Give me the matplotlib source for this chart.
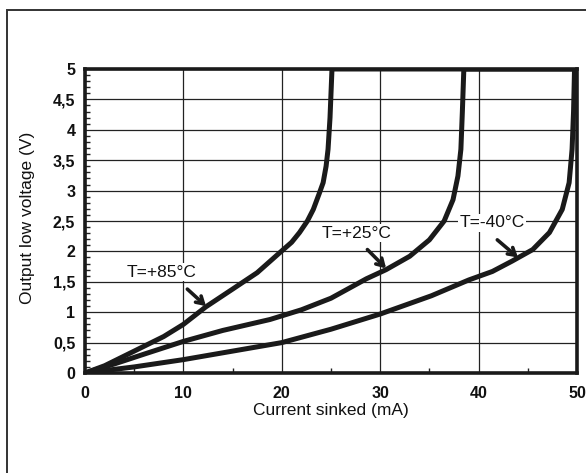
import matplotlib
matplotlib.use("Agg")
import matplotlib.pyplot as plt
from matplotlib.patches import Rectangle
from matplotlib.ticker import MultipleLocator, FuncFormatter

# Data (current in mA, voltage in V)
i_85 = [0, 2, 5, 8, 10, 12.3, 15, 17.5, 19.8, 21.0, 21.8, 22.6, 23.2, 23.8, 24.2, 24.5, 24.7, 24.9, 25.1, 50]
v_85 = [0, 0.12, 0.36, 0.6, 0.8, 1.09, 1.38, 1.65, 1.98, 2.15, 2.31, 2.5, 2.69, 2.95, 3.13, 3.4, 3.68, 4.2, 5.0, 5.0]

i_25 = [0, 3, 6, 10, 14, 18.8, 22, 25, 26.8, 28.6, 30.6, 33.0, 35.0, 36.5, 37.4, 37.9, 38.2, 38.35, 38.5, 50]
v_25 = [0, 0.15, 0.31, 0.52, 0.7, 0.88, 1.04, 1.23, 1.39, 1.55, 1.70, 1.92, 2.19, 2.5, 2.85, 3.24, 3.68, 4.3, 5.0, 5.0]

i_m40 = [0, 5, 10, 15, 20, 25, 30, 35.2, 39.0, 41.4, 43.4, 45.5, 47.2, 48.5, 49.2, 49.5, 49.65, 49.75]
v_m40 = [0, 0.1, 0.22, 0.36, 0.5, 0.72, 0.97, 1.27, 1.53, 1.67, 1.84, 2.03, 2.31, 2.69, 3.13, 3.68, 4.3, 5.0]

labels = ["T=+85°C", "T=+25°C", "T=-40°C"]
label_xy = [(7.75, 1.66), (27.6, 2.30), (41.4, 2.47)]
arrow_from = [(10.4, 1.38), (28.7, 2.03), (41.9, 2.19)]
arrow_to = [(12.3, 1.10), (30.6, 1.72), (44.0, 1.90)]

x_ticks = [0, 10, 20, 30, 40, 50]
y_ticks = [0, 0.5, 1, 1.5, 2, 2.5, 3, 3.5, 4, 4.5, 5]

plt.rcParams['font.family'] = ['Liberation Sans', 'DejaVu Sans']

fig = plt.figure(figsize=(5.86, 4.73), dpi=100)
fig.patch.set_facecolor('white')

# outer frame (partly cut by the image edge)
fig.patches.append(Rectangle((7 / 586, -0.2), 1.5, 1.2 - 10 / 473, transform=fig.transFigure,
                             fill=False, edgecolor='#333333', linewidth=1.4, clip_on=False))

ax = fig.add_axes([85 / 586, 1 - 373 / 473, (577 - 85) / 586, (373 - 69) / 473])
ax.set_xlim(0, 50)
ax.set_ylim(0, 5)

ax.set_xticks(x_ticks)
ax.set_yticks(y_ticks)
ax.yaxis.set_major_formatter(FuncFormatter(lambda v, p: ('%g' % v).replace('.', ',')))
ax.xaxis.set_minor_locator(MultipleLocator(5))
ax.yaxis.set_minor_locator(MultipleLocator(0.1))
ax.tick_params(which='major', length=0, labelsize=11.5, colors='#111111')
ax.tick_params(axis='x', which='major', pad=9)
ax.tick_params(axis='y', which='major', pad=7)
ax.tick_params(which='minor', direction='in', length=3.5, width=1.0, color='#222222')
for lab in ax.get_xticklabels() + ax.get_yticklabels():
    lab.set_fontweight('bold')

ax.grid(True, which='major', color='#222222', linewidth=0.9)
for s in ax.spines.values():
    s.set_linewidth(2.6)
    s.set_color('#1a1a1a')

for xs, ys in [(i_85, v_85), (i_25, v_25), (i_m40, v_m40)]:
    ax.plot(xs, ys, color='#1a1a1a', linewidth=3.6, solid_capstyle='butt',
            solid_joinstyle='round', zorder=3)

for lab, xy, a0, a1 in zip(labels, label_xy, arrow_from, arrow_to):
    ax.text(xy[0], xy[1], lab, ha='center', va='center', fontsize=12.5, color='#111111',
            bbox=dict(facecolor='white', edgecolor='none', pad=1.0), zorder=4)
    ax.annotate('', xy=a1, xytext=a0,
                arrowprops=dict(arrowstyle='->,head_length=0.5,head_width=0.3', lw=2.6,
                                color='#1a1a1a', shrinkA=0, shrinkB=0), zorder=4)

ax.set_xlabel('Current sinked (mA)', fontsize=12.5, color='#111111')
ax.set_ylabel('Output low voltage (V)', fontsize=12.5, color='#111111')
ax.xaxis.label.set_va('center')
ax.yaxis.label.set_va('center')
ax.xaxis.set_label_coords(0.5, -0.124)
ax.yaxis.set_label_coords(-0.116, 0.51)

fig.savefig('out.png', dpi=100)
